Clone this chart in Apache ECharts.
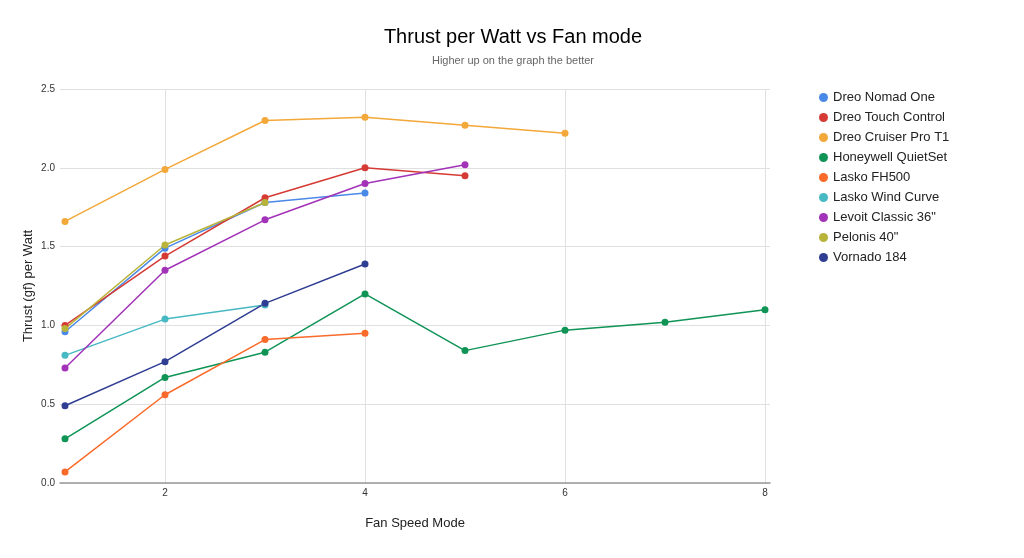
<!DOCTYPE html>
<html>
<head>
<meta charset="utf-8">
<script src="https://cdn.jsdelivr.net/npm/echarts@6/dist/echarts.min.js"></script>
<style>html,body{margin:0;padding:0;background:#fff}#c{width:1024px;height:558px}</style>
</head>
<body>
<div id="c"></div>
<script>
const titleText = 'Thrust per Watt vs Fan mode';
const subtitleText = 'Higher up on the graph the better';
const xAxisName = 'Fan Speed Mode';
const yAxisName = 'Thrust (gf) per Watt';
const xTicks = [2, 4, 6, 8];
const seriesNames = ['Dreo Nomad One', 'Dreo Touch Control', 'Dreo Cruiser Pro T1', 'Honeywell QuietSet', 'Lasko FH500', 'Lasko Wind Curve', 'Levoit Classic 36"', 'Pelonis 40"', 'Vornado 184'];
const colors = ['#4a89e8', '#d53a35', '#f3a83a', '#0f9456', '#fa6a2a', '#46b9c3', '#a232b8', '#b8b43a', '#2f3d93'];

const dreoNomadOne = [0.96, 1.49, 1.78, 1.84];
const dreoTouchControl = [1.00, 1.44, 1.81, 2.00, 1.95];
const dreoCruiserProT1 = [1.66, 1.99, 2.30, 2.32, 2.27, 2.22];
const honeywellQuietSet = [0.28, 0.67, 0.83, 1.20, 0.84, 0.97, 1.02, 1.10];
const laskoFH500 = [0.07, 0.56, 0.91, 0.95];
const laskoWindCurve = [0.81, 1.04, 1.13];
const levoitClassic36 = [0.73, 1.35, 1.67, 1.90, 2.02];
const pelonis40 = [0.98, 1.51, 1.78];
const vornado184 = [0.49, 0.77, 1.14, 1.39];

const allValues = [dreoNomadOne, dreoTouchControl, dreoCruiserProT1, honeywellQuietSet, laskoFH500, laskoWindCurve, levoitClassic36, pelonis40, vornado184];

const chart = echarts.init(document.getElementById('c'));
const font = 'Arial, "Liberation Sans", sans-serif';
chart.setOption({
  animation: false,
  color: colors,
  textStyle: { fontFamily: font },
  title: {
    text: titleText,
    subtext: subtitleText,
    left: 508,
    textAlign: 'center',
    top: 22,
    itemGap: 8,
    textStyle: { fontSize: 20, fontWeight: 'normal', color: '#000', fontFamily: font },
    subtextStyle: { fontSize: 11, color: '#666', fontFamily: font }
  },
  legend: {
    orient: 'vertical',
    left: 814,
    top: 86,
    icon: 'circle',
    itemWidth: 9,
    itemHeight: 9,
    itemGap: 7,
    textStyle: { fontSize: 13, color: '#222', fontFamily: font },
    data: seriesNames
  },
  grid: { left: 60, right: 254, top: 89, bottom: 75 },
  xAxis: {
    type: 'value',
    min: 0.95,
    max: 8.05,
    name: xAxisName,
    nameLocation: 'middle',
    nameGap: 34,
    nameTextStyle: { fontSize: 13, color: '#222' },
    axisLine: { show: true, lineStyle: { color: '#999', width: 1.5 } },
    axisTick: { show: false, customValues: xTicks },
    axisLabel: { customValues: xTicks, color: '#333', fontSize: 10, margin: 5 },
    splitLine: { show: true, lineStyle: { color: '#e0e0e0' } }
  },
  yAxis: {
    type: 'value',
    min: 0,
    max: 2.5,
    interval: 0.5,
    name: yAxisName,
    nameLocation: 'middle',
    nameGap: 25,
    nameMoveOverlap: false,
    nameTextStyle: { fontSize: 13, color: '#222' },
    axisLine: { show: false },
    axisTick: { show: false },
    axisLabel: { color: '#333', fontSize: 10, margin: 5, formatter: v => v.toFixed(1) },
    splitLine: { lineStyle: { color: '#e0e0e0' } }
  },
  series: seriesNames.map((n, i) => ({
    name: n,
    type: 'line',
    data: allValues[i].map((v, j) => [j + 1, v]),
    symbol: 'circle',
    symbolSize: 7,
    lineStyle: { width: 1.5 },
    itemStyle: { color: colors[i] }
  }))
});
</script>
</body>
</html>
